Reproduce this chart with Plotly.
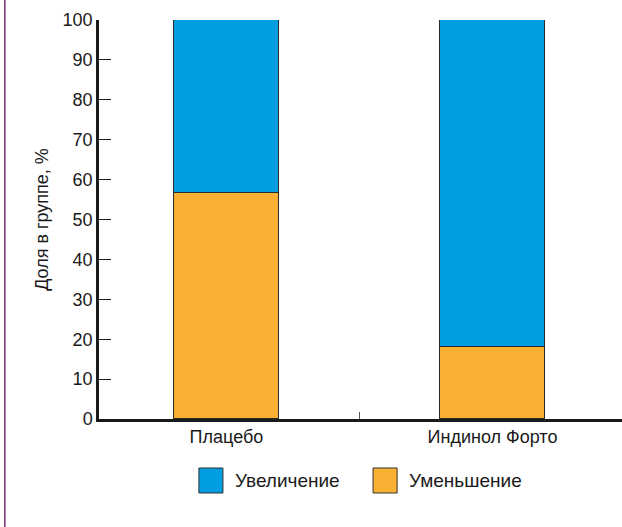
import plotly.graph_objects as go

categories = ["Плацебо", "Индинол Форто"]
series_names = ["Уменьшение", "Увеличение"]
decrease = [56.7, 18.0]
increase = [43.3, 82.0]
y_ticks = [0, 10, 20, 30, 40, 50, 60, 70, 80, 90, 100]
y_title = "Доля в группе, %"

BLUE = "#009ee0"
ORANGE = "#f8b133"
FONT = "Liberation Sans, Arial, sans-serif"
TXT = "#1a1a1a"

fig = go.Figure()
fig.add_trace(go.Bar(x=categories, y=decrease, name=series_names[0], width=0.395,
                     marker=dict(color=ORANGE, line=dict(color="#2b2b2b", width=1.5)),
                     showlegend=False))
fig.add_trace(go.Bar(x=categories, y=increase, name=series_names[1], width=0.395,
                     marker=dict(color=BLUE, line=dict(color="#2b2b2b", width=1.5)),
                     showlegend=False))

# custom legend (large swatches)
legend_items = [(series_names[1], BLUE, 0.191, 0.256), (series_names[0], ORANGE, 0.524, 0.589)]
for name, col, x0, tx in legend_items:
    fig.add_shape(type="rect", xref="paper", yref="paper", x0=x0, x1=x0 + 0.046,
                  y0=-0.1855, y1=-0.1228, fillcolor=col, line=dict(color="#333333", width=1))
    fig.add_annotation(xref="paper", yref="paper", x=tx, y=-0.154, text=name,
                       showarrow=False, xanchor="left", yanchor="middle",
                       font=dict(family=FONT, size=19, color=TXT))

# left purple border line
fig.add_shape(type="line", xref="paper", yref="paper", x0=-0.180, x1=-0.180,
              y0=-0.28, y1=1.06, line=dict(color="#7b2c6b", width=1.5))

fig.update_layout(
    barmode="stack",
    width=622, height=527,
    margin=dict(l=99, r=0, t=20, b=108),
    paper_bgcolor="white", plot_bgcolor="white",
    font=dict(family=FONT, size=18, color=TXT),
    bargap=0,
)
fig.update_xaxes(range=[-0.479, 1.487], showline=True, linecolor=TXT, linewidth=2.5,
                 ticks="inside", tickson="boundaries", ticklen=7, tickcolor="#555555",
                 tickwidth=1, showgrid=False, zeroline=False,
                 tickfont=dict(family=FONT, size=18, color=TXT))
fig.update_yaxes(range=[0, 100], tickvals=y_ticks, showline=True, linecolor=TXT,
                 linewidth=2.5, ticks="inside", ticklen=12, tickwidth=1.2, tickcolor=TXT,
                 showgrid=False, zeroline=False,
                 title=dict(text=y_title, font=dict(family=FONT, size=18, color=TXT), standoff=10),
                 tickfont=dict(family=FONT, size=18, color=TXT))

fig.write_html("out.html", config={"displayModeBar": False},
               post_script="document.body.style.margin='0';")
